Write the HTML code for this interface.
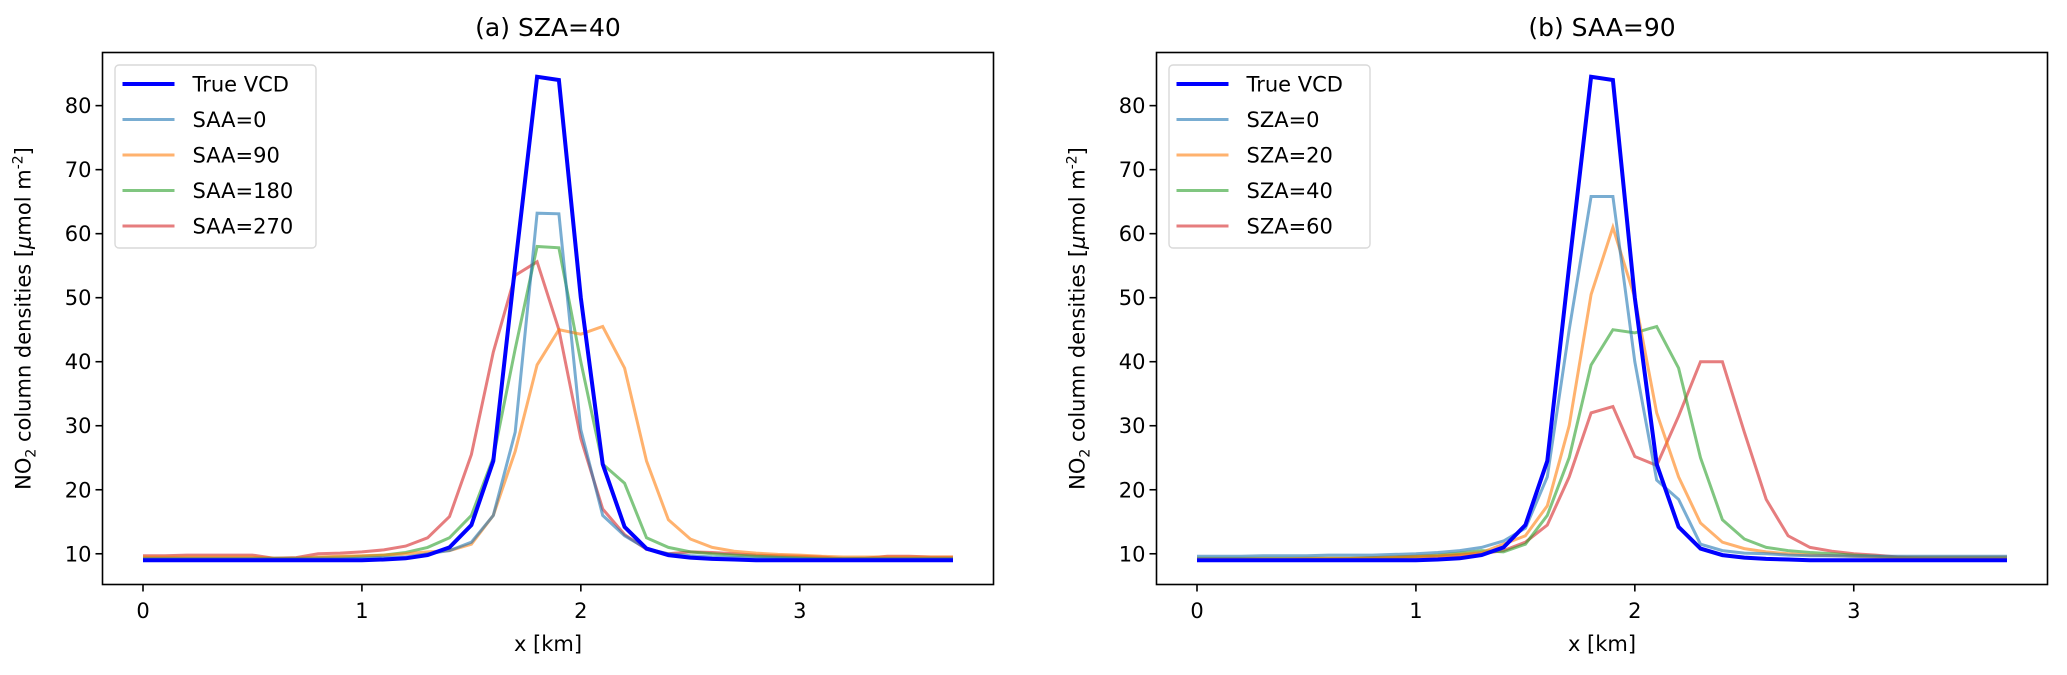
<!DOCTYPE html>
<html><head><meta charset="utf-8"><style>
html,body{margin:0;padding:0;background:#fff;}
svg{display:block;font-family:"DejaVu Sans","Liberation Sans",sans-serif;}
</style></head><body>
<svg id="fig" width="2067" height="675" viewBox="0 0 2067 675"></svg>
<script>
const xs = [0,0.1,0.2,0.3,0.4,0.5,0.6,0.7,0.8,0.9,1.0,1.1,1.2,1.3,1.4,1.5,1.6,1.7,1.8,1.9,2.0,2.1,2.2,2.3,2.4,2.5,2.6,2.7,2.8,2.9,3.0,3.1,3.2,3.3,3.4,3.5,3.6,3.7];
const trueVCD = [9,9,9,9,9,9,9,9,9,9,9,9.1,9.3,9.8,11,14.5,24.5,55,84.5,84,50,24,14.2,10.8,9.8,9.4,9.2,9.1,9,9,9,9,9,9,9,9,9,9];
const saa0 = [9.2,9.2,9.2,9.2,9.2,9.2,9.2,9.2,9.2,9.2,9.3,9.4,9.5,10,10.5,11.8,16,29,63.2,63.1,29.4,16,12.8,10.8,10,9.7,9.5,9.4,9.3,9.3,9.2,9.2,9.2,9.2,9.2,9.2,9.2,9.2];
const saa90 = [9.5,9.5,9.5,9.5,9.5,9.5,9.3,9.3,9.5,9.6,9.7,9.8,10,10.3,10.5,11.5,16,26,39.5,45,44.3,45.5,39,24.5,15.3,12.3,11,10.4,10.1,9.9,9.8,9.6,9.5,9.5,9.5,9.5,9.5,9.5];
const saa180 = [9.3,9.3,9.3,9.3,9.3,9.3,9.3,9.3,9.4,9.5,9.6,9.8,10.2,11,12.5,16,25,42,58,57.8,40,24,21,12.5,11,10.3,10,9.8,9.6,9.5,9.4,9.3,9.3,9.3,9.3,9.3,9.3,9.3];
const saa270 = [9.7,9.7,9.8,9.8,9.8,9.8,9.3,9.4,10,10.1,10.3,10.6,11.2,12.5,15.8,25.5,41.5,53.5,55.6,45,28,17,13,10.7,10,10.3,10.2,10,9.8,9.7,9.6,9.5,9.2,9.3,9.6,9.6,9.5,9.5];
const sza0 = [9.6,9.6,9.6,9.7,9.7,9.7,9.8,9.8,9.8,9.9,10,10.2,10.5,11,12,14,22,45,65.8,65.8,40,21.5,18.5,11.5,10.5,10.1,10,9.8,9.7,9.7,9.6,9.6,9.6,9.6,9.6,9.6,9.6,9.6];
const sza20 = [9.2,9.2,9.2,9.2,9.2,9.3,9.3,9.3,9.4,9.5,9.6,9.7,9.9,10.2,11.5,12.8,17.5,30,50.5,61,50,32,22,14.8,11.8,10.8,10.3,10,9.8,9.7,9.6,9.5,9.5,9.5,9.5,9.5,9.5,9.5];
const sza40 = [9.3,9.3,9.3,9.3,9.3,9.3,9.3,9.3,9.4,9.5,9.6,9.8,10.1,10.5,10.3,11.5,16,25,39.5,45,44.5,45.5,39,25,15.3,12.3,11,10.5,10.2,10,9.8,9.6,9.4,9.4,9.4,9.4,9.4,9.4];
const sza60 = [9,9,9,9,9,9.1,9.1,9.2,9.3,9.4,9.5,9.6,9.8,10,10.5,11.8,14.5,22,32,33,25.2,23.8,31.5,40,40,29,18.5,12.8,11,10.4,10,9.8,9.5,9.3,9.2,9.2,9.2,9.2];
const yTicks = [10,20,30,40,50,60,70,80];
const xTicks = [0,1,2,3];
const panels = [
  {title:"(a) SZA=40", left:102.5, series:[
    {name:"True VCD", vals:trueVCD, color:"#0000ff", w:4, op:1},
    {name:"SAA=0", vals:saa0, color:"#1f77b4", w:3, op:0.6},
    {name:"SAA=90", vals:saa90, color:"#ff7f0e", w:3, op:0.6},
    {name:"SAA=180", vals:saa180, color:"#2ca02c", w:3, op:0.6},
    {name:"SAA=270", vals:saa270, color:"#d62728", w:3, op:0.6}]},
  {title:"(b) SAA=90", left:1156.5, series:[
    {name:"True VCD", vals:trueVCD, color:"#0000ff", w:4, op:1},
    {name:"SZA=0", vals:sza0, color:"#1f77b4", w:3, op:0.6},
    {name:"SZA=20", vals:sza20, color:"#ff7f0e", w:3, op:0.6},
    {name:"SZA=40", vals:sza40, color:"#2ca02c", w:3, op:0.6},
    {name:"SZA=60", vals:sza60, color:"#d62728", w:3, op:0.6}]}
];
const NS="http://www.w3.org/2000/svg";
const svg=document.getElementById('fig');
function mk(tag,attrs,parent,text){const e=document.createElementNS(NS,tag);for(const k in attrs)e.setAttribute(k,attrs[k]);if(text!==undefined)e.textContent=text;(parent||svg).appendChild(e);return e;}
const W=891, axTop=52.5, axBottom=584.5, xmin=-0.185, xmax=3.885, ymin=5.2, ymax=88.3;
panels.forEach((p,pi)=>{
  const g=mk('g',{});
  
  
  const X=v=>p.left+(v-xmin)/(xmax-xmin)*W;
  const Y=v=>axBottom-(v-ymin)/(ymax-ymin)*(axBottom-axTop);
  const cx=p.left+W/2;
  const t=mk('text',{x:cx,y:36,'text-anchor':'middle','font-size':25,fill:'#000'},g,p.title);
  
  
  const clip=mk('clipPath',{id:'c'+pi},g);
  mk('rect',{x:p.left,y:axTop,width:W,height:axBottom-axTop},clip);
  const lines=mk('g',{'clip-path':'url(#c'+pi+')'},g);
  p.series.slice().reverse().forEach((s)=>{
    const d=s.vals.map((v,i)=>(i?'L':'M')+X(xs[i]).toFixed(1)+' '+Y(v).toFixed(1)).join(' ');
    const pl=mk('path',{d:d,fill:'none',stroke:s.color,'stroke-width':s.w,'stroke-opacity':s.op,'stroke-linejoin':'miter'},lines);
    
    
  });
  const frame=mk('rect',{x:p.left,y:axTop,width:W,height:axBottom-axTop,fill:'none',stroke:'#000','stroke-width':1.6},g);
  
  
  yTicks.forEach(v=>{
    const y=Y(v);
    mk('line',{x1:p.left-7,x2:p.left,y1:y,y2:y,stroke:'#000','stroke-width':1.6},g);
    const tl=mk('text',{x:p.left-11,y:y+7.5,'text-anchor':'end','font-size':21,fill:'#000'},g,String(v));
    
    
  });
  xTicks.forEach(v=>{
    const x=X(v);
    mk('line',{x1:x,x2:x,y1:axBottom,y2:axBottom+7,stroke:'#000','stroke-width':1.6},g);
    const tl=mk('text',{x:x,y:618,'text-anchor':'middle','font-size':21,fill:'#000'},g,String(v));
    
    
  });
  const xl=mk('text',{x:cx,y:651,'text-anchor':'middle','font-size':21,fill:'#000'},g,'x [km]');
  
  
  const yl=mk('text',{x:0,y:0,'text-anchor':'middle','font-size':21,fill:'#000',transform:'translate('+(p.left-72)+','+((axTop+axBottom)/2)+') rotate(-90)'},g);
  
  
  mk('tspan',{},yl,'NO');
  mk('tspan',{'font-size':14,dy:5},yl,'2');
  mk('tspan',{dy:-5},yl,' column densities [');
  mk('tspan',{'font-style':'italic'},yl,'μ');
  mk('tspan',{},yl,'mol m');
  mk('tspan',{'font-size':14,dy:-8},yl,'-2');
  mk('tspan',{dy:8},yl,']');
  const lg=mk('g',{},g);
  
  
  mk('rect',{x:p.left+12.5,y:65,width:201,height:183,rx:4,fill:'#fff','fill-opacity':0.8,stroke:'#d9d9d9','stroke-width':1.4},lg);
  p.series.forEach((s,i)=>{
    const y=84+i*35.5;
    const le=mk('g',{},lg);
    
    
    mk('line',{x1:p.left+20,x2:p.left+72,y1:y,y2:y,stroke:s.color,'stroke-width':s.w,'stroke-opacity':s.op},le);
    mk('text',{x:p.left+90,y:y+7.5,'font-size':21,fill:'#000'},le,s.name);
  });
});
</script>
</body></html>
